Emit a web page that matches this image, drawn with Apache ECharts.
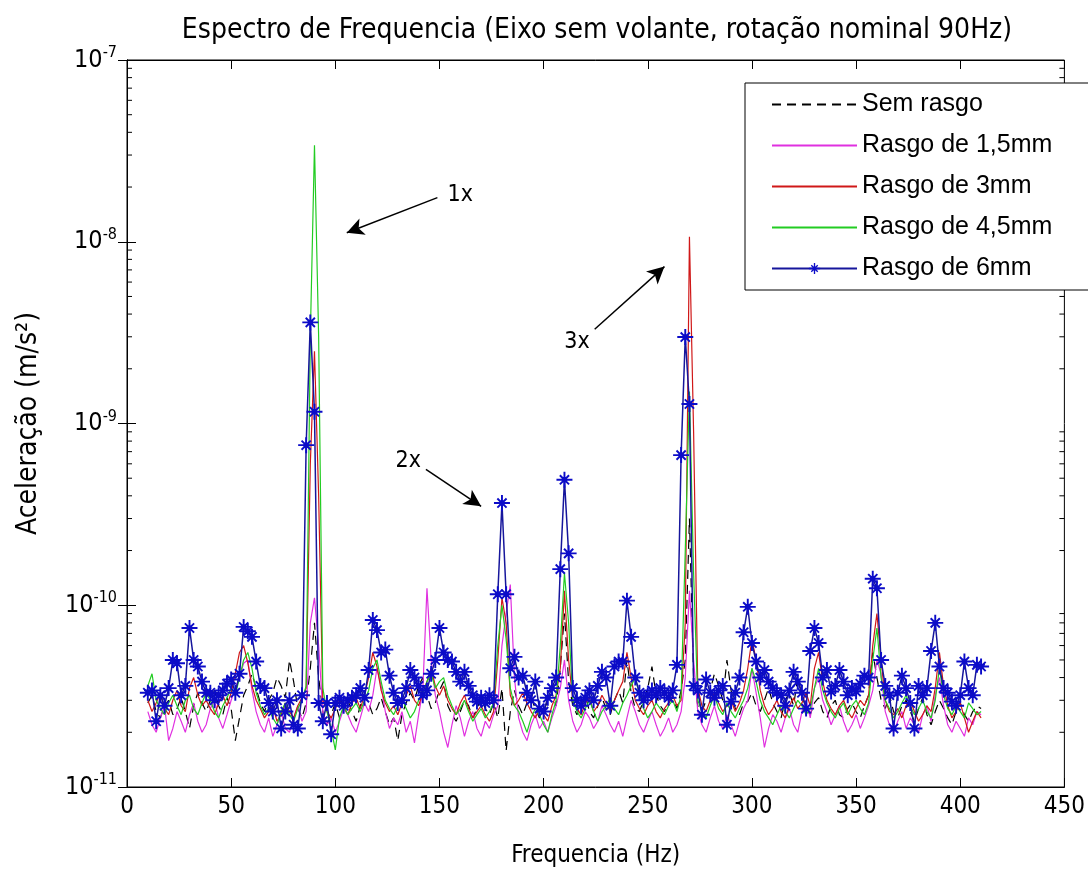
<!DOCTYPE html>
<html><head><meta charset="utf-8">
<script src="https://cdn.jsdelivr.net/npm/echarts@6/dist/echarts.min.js"></script>
<style>html,body{margin:0;padding:0;background:#fff;overflow:hidden}#c{width:1088px;height:873px}</style>
</head><body><div id="c"></div><script>
// Frequency grid (Hz) of the spectrum samples
const FREQ_START = 10, FREQ_STEP = 2;
// Values in units of 1e-11 m/s^2
const UNIT = 1e-11;
const semRasgo = [
2.9,3.2,2.6,2.4,2.8,3.0,2.5,2.7,3.1,2.6,
2.1,2.8,3.3,2.9,2.6,3.0,3.4,2.8,2.5,3.1,
2.7,1.8,2.4,3.2,3.6,4.2,3.5,2.9,2.6,3.0,
3.3,4.0,3.6,3.1,5.0,3.8,2.7,2.4,2.9,4.5,
8.0,4.0,2.6,2.2,2.5,2.9,2.4,2.7,3.0,2.6,
2.3,2.8,3.2,2.9,2.5,2.7,3.1,2.6,2.2,2.4,
1.8,2.5,2.9,3.3,3.0,3.6,4.0,3.2,2.7,2.9,
3.4,3.8,2.8,2.5,2.3,2.6,3.0,2.8,2.4,2.7,
3.1,2.7,2.5,2.9,2.4,3.5,1.58,2.6,3.4,2.8,
2.5,2.9,3.1,2.7,2.4,2.6,3.0,3.3,2.8,4.5,
9.0,3.8,2.8,2.5,2.9,3.2,2.6,2.4,2.8,3.1,
2.7,2.5,3.0,3.4,2.9,5.0,3.3,2.7,2.6,3.0,
3.5,4.6,3.2,2.8,2.6,2.9,3.1,2.7,3.4,5.0,
30,4.0,2.8,2.6,3.0,3.4,4.2,3.6,3.0,5.0,
3.4,2.7,2.5,2.9,2.95,3.3,2.8,2.6,3.0,3.5,
2.9,2.6,2.4,3.0,3.3,2.8,4.0,3.2,2.7,2.5,
2.9,3.1,2.6,2.4,2.8,3.0,2.5,2.4,2.7,2.9,
2.6,2.4,2.8,3.2,5.5,4.0,3.0,2.7,3.2,2.6,
2.4,2.8,3.0,2.6,2.3,2.7,3.1,2.5,2.2,2.6,
3.0,2.7,2.4,2.2,2.6,2.9,2.5,2.3,2.6,2.8,
2.7];
const rasgo15 = [
2.6,2.2,2.0,2.4,2.8,1.8,2.1,2.6,2.3,2.0,
2.5,2.9,2.3,2.0,2.2,2.7,3.0,2.4,2.1,2.5,
3.0,3.5,4.0,4.8,5.0,3.4,2.6,2.2,2.0,2.4,
1.9,2.2,2.6,2.1,2.0,2.4,2.8,2.3,2.6,8.0,
11.0,6.0,2.6,2.2,2.4,2.0,2.3,2.7,2.5,2.2,
2.0,2.4,2.9,2.6,3.2,4.5,3.6,2.6,2.1,2.4,
2.2,2.6,2.0,2.3,1.75,2.5,3.4,12.4,5.0,3.2,
2.6,2.0,1.65,2.2,2.8,2.4,1.9,2.3,2.6,2.1,
1.9,2.3,2.1,2.5,2.8,6.0,9.0,13.0,4.0,2.4,
2.0,1.8,2.2,2.5,2.1,2.3,2.0,2.4,2.8,3.5,
5.0,3.0,2.3,2.0,2.2,2.6,2.4,2.1,2.3,2.8,
2.5,2.2,2.0,2.3,1.9,2.4,3.0,2.6,2.2,2.0,
2.3,2.6,2.2,1.9,2.1,2.4,2.0,2.2,2.6,4.0,
12.0,5.0,2.6,2.2,2.0,2.4,2.8,2.3,2.1,2.5,
2.2,1.9,2.3,2.7,3.0,4.5,3.3,2.4,1.65,2.1,
2.5,2.3,2.0,2.4,2.7,2.2,2.0,2.6,3.0,2.4,
3.5,4.0,3.0,2.6,2.2,2.5,2.8,2.3,2.0,2.2,
2.5,2.1,2.4,2.8,3.4,5.0,4.2,2.6,2.2,2.0,
2.3,2.6,2.1,2.4,2.2,2.0,2.5,2.8,2.3,3.2,
4.0,2.8,2.2,2.0,2.3,2.1,1.9,2.4,2.2,2.6,
2.5];
const rasgo3 = [
3.0,2.6,2.9,3.3,2.7,2.5,3.0,3.4,2.8,2.6,
3.5,4.0,3.2,2.8,3.0,2.7,2.5,2.9,3.2,2.8,
3.3,4.2,5.5,6.0,4.8,3.6,3.0,2.7,2.4,2.6,
2.8,2.3,2.5,2.9,2.6,2.4,2.8,3.1,3.5,60,
250,40,3.0,2.6,2.4,2.7,3.0,2.8,2.5,2.9,
3.1,2.7,3.2,4.0,5.5,4.6,3.4,2.9,2.6,2.8,
2.5,2.9,3.2,3.6,3.0,2.8,3.3,3.8,4.5,3.6,
3.2,3.6,3.0,2.7,2.5,2.9,3.2,2.7,2.4,2.6,
2.8,2.5,2.3,2.6,5.0,11.0,8.0,3.2,2.8,3.0,
3.3,2.9,2.6,2.4,2.7,2.5,2.3,2.8,3.2,4.5,
12.0,5.0,3.0,2.7,2.5,2.9,3.1,2.6,2.8,3.2,
2.9,2.6,3.0,3.4,3.8,5.5,4.0,3.0,2.7,2.5,
2.8,3.0,2.6,2.4,2.7,2.9,3.2,2.8,3.0,8.0,
1064,90,3.5,2.8,2.6,3.0,3.3,2.9,2.6,2.8,
3.0,2.6,2.9,3.4,4.5,6.5,5.0,3.4,2.8,2.5,
2.7,3.0,2.6,2.4,2.8,3.1,2.7,2.9,3.3,2.8,
4.5,5.5,3.8,3.0,2.7,2.5,2.8,3.0,2.6,2.4,
2.7,3.0,2.8,3.2,6.0,9.0,5.0,3.0,2.6,2.5,
2.7,2.4,2.8,3.0,2.6,2.3,2.5,2.8,2.6,3.5,
5.5,3.6,2.8,2.4,2.6,2.9,2.4,2.0,2.3,2.6,
2.4];
const rasgo45 = [
3.6,4.2,3.0,2.7,2.5,2.9,3.2,2.8,2.5,3.0,
3.2,2.7,2.5,2.9,3.3,3.0,2.6,2.4,2.8,3.1,
3.5,3.2,4.0,5.0,5.5,4.5,3.3,2.8,2.5,2.7,
2.4,2.2,2.6,2.9,2.5,2.3,2.7,3.0,3.6,300,
3400,300,3.5,2.6,2.1,1.6,2.4,2.8,2.5,2.7,
2.9,2.6,3.0,3.4,4.5,5.0,3.8,3.0,2.7,2.5,
2.8,3.1,2.7,2.4,2.6,3.0,3.3,3.8,4.2,3.5,
3.8,4.0,3.2,2.8,2.5,2.7,3.0,2.6,2.3,2.5,
2.7,2.4,2.6,2.9,6.0,10.0,6.5,3.5,2.8,2.6,
2.3,2.0,2.4,2.7,2.5,2.2,2.0,2.5,3.0,6.0,
15.0,8.0,3.0,2.6,2.4,2.7,3.0,2.6,2.3,2.6,
2.8,3.1,2.7,2.5,2.9,3.2,3.6,4.0,3.2,2.7,
2.4,2.6,2.9,2.7,2.5,2.8,3.0,2.6,3.2,20,
150,15,3.0,2.6,2.4,2.8,3.2,2.7,2.5,2.9,
2.6,2.4,2.7,3.0,3.5,4.5,3.8,3.0,2.6,2.4,
2.2,2.5,2.8,2.6,2.4,2.7,3.0,2.8,2.5,2.7,
3.5,4.5,3.4,2.9,2.6,2.4,2.7,2.9,2.5,2.8,
3.0,2.7,2.5,2.9,5.0,7.5,4.0,3.0,2.7,2.4,
2.6,2.9,3.2,2.8,2.5,2.7,3.0,2.6,2.4,3.0,
4.5,3.2,2.7,2.5,2.8,2.6,2.4,2.9,2.7,2.5,
2.6];
const rasgo6 = [
3.3,3.4,2.3,3.2,2.8,3.5,5.0,4.8,3.2,3.6,
7.5,5.0,4.6,3.8,3.3,3.3,3.0,3.2,3.4,3.7,
3.9,3.3,4.2,7.6,7.2,6.7,4.9,3.6,3.5,2.9,
2.6,3.0,2.1,2.6,3.0,2.2,2.1,3.2,76,360,
116,2.9,2.3,2.9,1.95,2.9,3.1,2.8,3.0,3.1,
3.2,3.5,3.1,4.4,8.3,7.3,5.5,5.7,4.1,3.3,
2.9,3.0,3.5,4.4,4.0,3.6,3.2,3.4,4.2,5.0,
7.5,5.5,5.0,4.9,4.3,3.8,4.3,3.6,3.2,2.95,
3.1,2.9,3.2,3.0,11.5,36.5,11.5,4.5,5.2,4.0,
4.1,3.3,3.0,3.8,2.7,2.6,3.1,3.5,4.0,15.8,
49,19.3,3.5,3.0,2.8,3.1,3.4,3.0,3.6,4.3,
4.0,2.8,4.6,4.9,4.9,10.6,6.7,4.0,3.3,3.0,
3.2,3.4,3.2,3.5,3.3,3.1,3.4,4.7,67,299,
128,3.6,3.4,2.5,3.9,3.3,3.1,3.4,3.6,2.2,
2.95,3.3,4.0,7.1,9.8,6.2,4.9,4.0,4.4,3.8,
3.5,3.3,3.2,2.8,3.4,4.3,3.8,3.3,2.7,5.6,
7.5,6.2,4.0,4.4,3.35,3.6,4.4,3.8,3.2,3.5,
3.35,3.7,4.1,4.0,14,12.4,5.0,3.6,3.2,2.1,
3.3,4.1,3.5,2.9,2.1,3.6,3.2,3.5,5.6,8.0,
4.6,3.5,3.3,2.95,2.8,3.2,4.9,3.5,3.2,4.7,
4.6];
const seriesNames = ['Sem rasgo','Rasgo de 1,5mm','Rasgo de 3mm','Rasgo de 4,5mm','Rasgo de 6mm'];
const xTicks = [0,50,100,150,200,250,300,350,400,450];
const yDecades = [-11,-10,-9,-8,-7];
const minorMantissas = [2,3,4,5,6,7,8,9];
// annotation texts and anchor points in data space [Hz, m/s^2]
const annTexts = ['1x','2x','3x'];
const annTextPos = [[160,1.8e-8],[135,6.2e-10],[216,2.8e-9]];
const annArrowFrom = [[149,1.75e-8],[143.5,5.6e-10],[224.5,3.3e-9]];
const annArrowTo = [[105.5,1.12e-8],[170,3.5e-10],[258,7.3e-9]];

const F = "'Liberation Sans Narrow','DejaVu Sans Condensed',sans-serif";
const FL = "'Liberation Sans',Arial,sans-serif";
const LEGEND_TOP = 83, LEGEND_BOTTOM = 292;
const toPairs = arr => arr.map((v,i)=>[FREQ_START+FREQ_STEP*i, v*UNIT]);
const minorTicks = [];
for (let d=-11; d<-7; d++) for (const m of minorMantissas) minorTicks.push(m*Math.pow(10,d));

const starPath = 'path://M-10,-1.2L10,-1.2L10,1.2L-10,1.2Z M-1.2,-10L1.2,-10L1.2,10L-1.2,10Z M-6.6,-4.9L-4.9,-6.6L6.6,4.9L4.9,6.6Z M4.9,-6.6L6.6,-4.9L-4.9,6.6L-6.6,4.9Z M-3.4,-3.4L3.4,-3.4L3.4,3.4L-3.4,3.4Z';

const chart = echarts.init(document.getElementById('c'), null, {renderer:'canvas', width:1088, height:873});
const lineBase = {type:'line', xAxisIndex:0, yAxisIndex:0, symbol:'none', animation:false, z:3};
chart.setOption({
  animation:false,
  backgroundColor:'#fff',
  title:{text:'Espectro de Frequencia (Eixo sem volante, rotação nominal 90Hz)', left:592, textAlign:'center', top:12,
    textStyle:{fontFamily:F, fontSize:28, fontWeight:'normal', color:'#000'}},
  grid:{left:127, right:18, top:60, bottom:73, show:true, borderColor:'#000', borderWidth:1, backgroundColor:'#fff'},
  legend:{data:seriesNames.map((n,i)=>i<4?{name:n, itemStyle:{opacity:0}}:{name:n}),
    orient:'vertical', left:745, top:LEGEND_TOP, zlevel:1, z:50, backgroundColor:'#fff', borderColor:'#000', borderWidth:1,
    padding:[8,40,8,26], itemGap:14, itemWidth:85, itemHeight:14,
    textStyle:{fontFamily:FL, fontSize:25, color:'#000', lineHeight:27}},
  xAxis:[
    {type:'value', min:0, max:450, interval:50, position:'bottom',
     name:'Frequencia (Hz)', nameLocation:'middle', nameGap:57,
     nameTextStyle:{fontFamily:F, fontSize:24, color:'#000'},
     axisLine:{show:true, lineStyle:{color:'#000', width:1}},
     axisTick:{show:true, inside:true, length:9, lineStyle:{color:'#000'}},
     axisLabel:{fontFamily:F, fontSize:24, color:'#000', margin:8, formatter:v=>xTicks.includes(v)?String(v):''},
     splitLine:{show:false}},
    {type:'value', min:0, max:450, interval:50, position:'top',
     axisLine:{show:true, lineStyle:{color:'#000', width:1}},
     axisTick:{show:true, inside:true, length:9, lineStyle:{color:'#000'}},
     axisLabel:{show:false}, splitLine:{show:false}}
  ],
  yAxis:[
    {type:'log', logBase:10, min:1e-11, max:1e-7, position:'left',
     name:'Aceleração (m/s²)', nameLocation:'middle', nameGap:84, nameRotate:90,
     nameTextStyle:{fontFamily:F, fontSize:28, color:'#000'},
     axisLine:{show:true, lineStyle:{color:'#000', width:1}},
     axisTick:{show:true, inside:true, length:9, lineStyle:{color:'#000'}},
     axisLabel:{margin:10, color:'#000', formatter:v=>{const e=Math.round(Math.log10(v)); return yDecades.includes(e)?'{b|10}{s|'+e+'}':'';},
       rich:{b:{fontFamily:F, fontSize:25, color:'#000'}, s:{fontFamily:F, fontSize:16, color:'#000', padding:[0,0,14,0]}}},
     splitLine:{show:false}},
    {type:'log', logBase:10, min:1e-11, max:1e-7, position:'right',
     axisLine:{show:true, lineStyle:{color:'#000', width:1}},
     axisTick:{show:true, inside:true, length:9, lineStyle:{color:'#000'}},
     axisLabel:{show:false}, splitLine:{show:false}}
  ],
  series:[
    Object.assign({}, lineBase, {name:seriesNames[0], data:toPairs(semRasgo), lineStyle:{color:'#000', width:1.2, type:[9,6]}, itemStyle:{color:'#000'}}),
    Object.assign({}, lineBase, {name:seriesNames[1], data:toPairs(rasgo15), lineStyle:{color:'#e030e0', width:1.2}, itemStyle:{color:'#e030e0'}}),
    Object.assign({}, lineBase, {name:seriesNames[2], data:toPairs(rasgo3), lineStyle:{color:'#d01818', width:1.2}, itemStyle:{color:'#d01818'}}),
    Object.assign({}, lineBase, {name:seriesNames[3], data:toPairs(rasgo45), lineStyle:{color:'#22cc22', width:1.2}, itemStyle:{color:'#22cc22'}}),
    Object.assign({}, lineBase, {name:seriesNames[4], data:toPairs(rasgo6), symbol:starPath, symbolSize:16, showAllSymbol:true,
      lineStyle:{color:'#16169c', width:1.5}, itemStyle:{color:'#0c0cc8'}}),
    {type:'line', name:'ann', data:[], xAxisIndex:0, yAxisIndex:0, silent:true,
      markLine:{silent:true, animation:false, symbol:['none','arrow'], symbolSize:16,
        lineStyle:{color:'#000', width:1.5, type:'solid'}, label:{show:false},
        data:annArrowFrom.map((p,i)=>[{coord:p, symbol:'none'},{coord:annArrowTo[i], symbol:'arrow', symbolSize:[13,17]}])},
      markPoint:{silent:true, animation:false, symbol:'circle', symbolSize:1, itemStyle:{color:'rgba(0,0,0,0)'},
        label:{show:true, position:'inside', color:'#000', fontFamily:F, fontSize:23},
        data:annTextPos.map((p,i)=>({coord:p, value:annTexts[i], label:{formatter:annTexts[i]}}))}},
    {type:'custom', name:'minor', silent:true, clip:false, z:1, xAxisIndex:0, yAxisIndex:0,
      data:minorTicks.map(v=>[0,v]),
      renderItem:(params, api)=>{
        const v = api.value(1);
        const l = api.coord([0, v]), r = api.coord([450, v]);
        const children = [{type:'line', shape:{x1:l[0], y1:l[1], x2:l[0]+5, y2:l[1]}, style:{stroke:'#000', lineWidth:1}}];
        if (r[1] < LEGEND_TOP || r[1] > LEGEND_BOTTOM)
          children.push({type:'line', shape:{x1:r[0]-5, y1:r[1], x2:r[0], y2:r[1]}, style:{stroke:'#000', lineWidth:1}});
        return {type:'group', children};
      }}
  ]
});
</script></body></html>
